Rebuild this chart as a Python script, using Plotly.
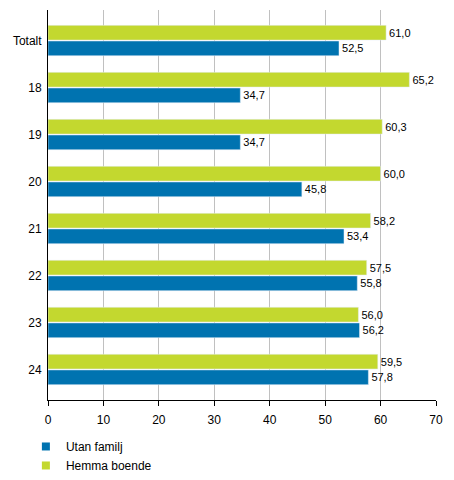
import plotly.graph_objects as go

categories = ["Totalt", "18", "19", "20", "21", "22", "23", "24"]
utan_familj = [52.5, 34.7, 34.7, 45.8, 53.4, 55.8, 56.2, 57.8]
hemma_boende = [61.0, 65.2, 60.3, 60.0, 58.2, 57.5, 56.0, 59.5]
x_ticks = [0, 10, 20, 30, 40, 50, 60, 70]

BLUE = "#0073B0"
GREEN = "#C3D82F"

def fmt(v):
    return f"{v:.1f}".replace(".", ",")

fig = go.Figure()
fig.add_trace(go.Bar(
    y=categories, x=hemma_boende, orientation="h", name="Hemma boende",
    marker_color=GREEN, text=[fmt(v) for v in hemma_boende],
    textposition="outside", textfont=dict(size=11, color="#000"), cliponaxis=False,
    showlegend=False,
))
fig.add_trace(go.Bar(
    y=categories, x=utan_familj, orientation="h", name="Utan familj",
    marker_color=BLUE, text=[fmt(v) for v in utan_familj],
    textposition="outside", textfont=dict(size=11, color="#000"), cliponaxis=False,
    showlegend=False,
))
# legend entries
fig.add_trace(go.Scatter(x=[None], y=[None], mode="markers", name="Utan familj",
                         marker=dict(symbol="square", size=8, color=BLUE)))
fig.add_trace(go.Scatter(x=[None], y=[None], mode="markers", name="Hemma boende",
                         marker=dict(symbol="square", size=8, color=GREEN)))

fig.update_layout(
    width=454, height=480,
    margin=dict(l=40, r=26, t=2, b=88),
    barmode="group", bargap=0.334, bargroupgap=0.06,
    plot_bgcolor="white", paper_bgcolor="white",
    font=dict(family="Liberation Sans, Arial, sans-serif", size=12, color="#000"),
    xaxis=dict(range=[0, 70], tickvals=x_ticks, showgrid=True, gridcolor="#C0C0C0",
               gridwidth=1, showline=True, linecolor="#000", ticks="outside",
               ticklen=5, tickcolor="#000", zeroline=False, fixedrange=True,
               automargin=False, ticklabelstandoff=4),
    yaxis=dict(categoryorder="array", categoryarray=categories,
               range=[len(categories) - 0.5 + 0.15, -0.65],
               showline=True, linecolor="#000", ticks="", ticklabelstandoff=3,
               fixedrange=True, automargin=False),
    showlegend=True,
    legend=dict(x=-0.057, xanchor="left", y=-0.082, yanchor="top",
                traceorder="normal", font=dict(size=12),
                itemwidth=30, tracegroupgap=0, bgcolor="rgba(0,0,0,0)"),
)
fig.write_html("out.html")
